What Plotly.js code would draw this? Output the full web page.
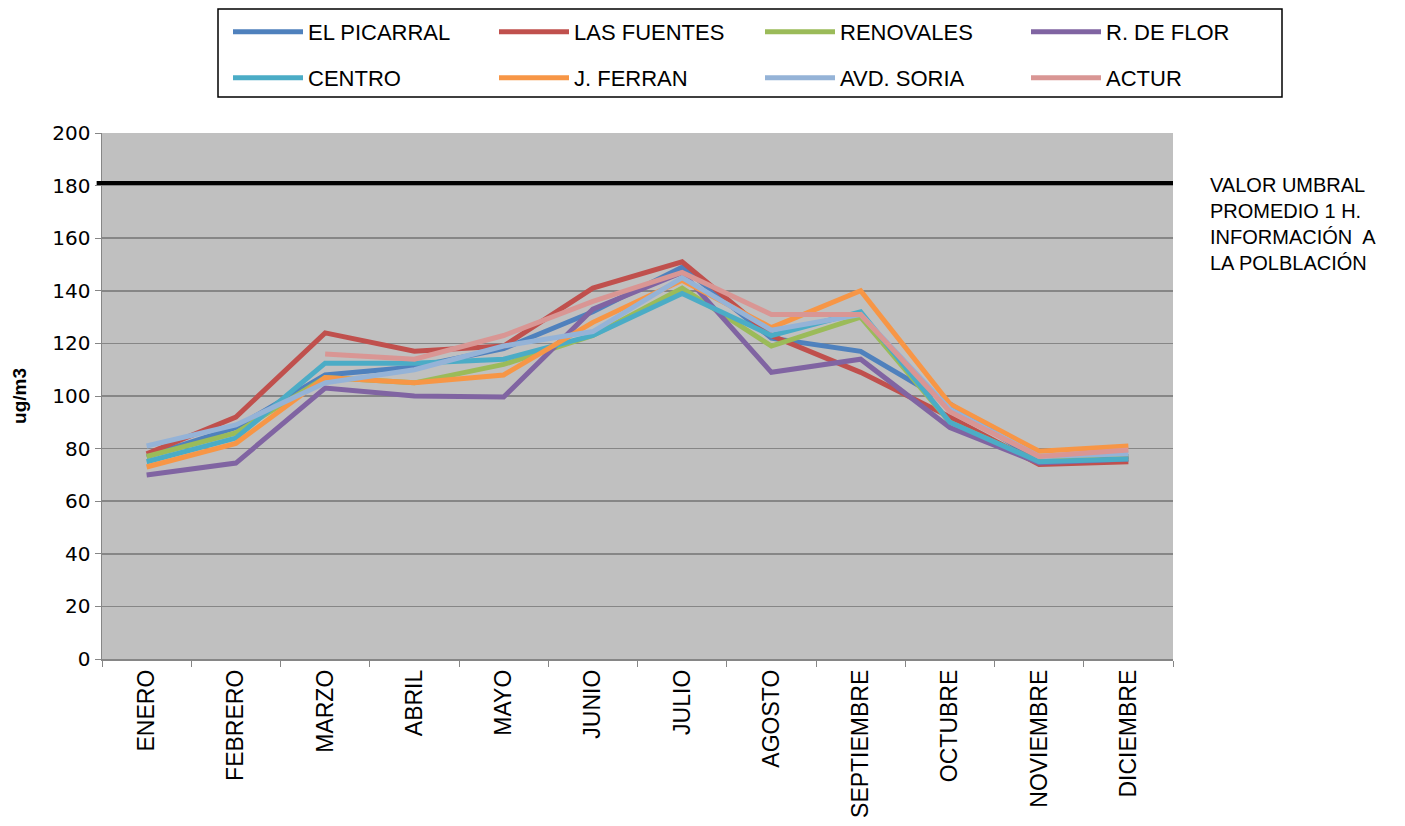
<!DOCTYPE html>
<html>
<head>
<meta charset="utf-8">
<script src="https://cdn.plot.ly/plotly-3.0.1.min.js"></script>
<style>html,body{margin:0;padding:0;background:#fff;}#chart{width:1405px;height:826px;}</style>
</head>
<body>
<div id="chart"></div>
<script>
const months = ["ENERO","FEBRERO","MARZO","ABRIL","MAYO","JUNIO","JULIO","AGOSTO","SEPTIEMBRE","OCTUBRE","NOVIEMBRE","DICIEMBRE"];
const elPicarral = [77, 88, 108, 111, 118, 132, 149, 122, 117, 97, 75, 77];
const lasFuentes = [78, 92, 124, 117, 119, 141, 151, 123, 109, 92, 74, 75];
const renovales  = [77, 86, 107, 105, 112, 123, 141, 119, 130, 90, 75, 77];
const rDeFlor    = [70, 74.5, 103, 100, 99.6, 133, 147, 109, 114, 88, 74.5, 76];
const centro     = [75, 84, 112.5, 112.5, 114, 123, 139, 123, 132, 90, 75, 76];
const jFerran    = [73, 82, 107, 105, 108, 128, 144, 126, 140, 97, 79, 81];
const avdSoria   = [81, 89, 105, 110, 119, 124.5, 145, 125, 131, 95, 77, 78];
const actur      = [null, null, 116, 114, 123, 136, 147, 131, 131, 94, 77, 79.5];
const umbral = 181;
const umbralLabel = "VALOR UMBRAL<br>PROMEDIO 1 H.<br>INFORMACIÓN  A<br>LA POLBLACIÓN";

const series = [
  ["EL PICARRAL", elPicarral, "#4F81BD", "legend"],
  ["LAS FUENTES", lasFuentes, "#C0504D", "legend"],
  ["RENOVALES", renovales, "#9BBB59", "legend"],
  ["R. DE FLOR", rDeFlor, "#8064A2", "legend"],
  ["CENTRO", centro, "#4BACC6", "legend2"],
  ["J. FERRAN", jFerran, "#F79646", "legend2"],
  ["AVD. SORIA", avdSoria, "#95B3D7", "legend2"],
  ["ACTUR", actur, "#D99694", "legend2"]
];

const traces = series.map(s => ({
  type: "scatter", mode: "lines", name: s[0], x: months, y: s[1],
  line: {color: s[2], width: 5}, connectgaps: false, legend: s[3]
}));

const ff = "Liberation Sans, Arial, sans-serif";
const legendBase = {
  orientation: "h", xref: "container", yref: "container",
  x: 228 / 1405, xanchor: "left", yanchor: "top",
  entrywidth: 181, entrywidthmode: "pixels", itemwidth: 70,
  borderwidth: 0, bgcolor: "rgba(0,0,0,0)",
  font: {family: ff, size: 22, color: "#000"},
  traceorder: "normal"
};

const layout = {
  width: 1405, height: 826,
  paper_bgcolor: "#fff", plot_bgcolor: "#c0c0c0",
  margin: {l: 102, r: 232, t: 133, b: 167, autoexpand: false},
  font: {family: ff, size: 19, color: "#000"},
  showlegend: true,
  legend: Object.assign({}, legendBase, {y: 1 - 11 / 826}),
  legend2: Object.assign({}, legendBase, {y: 1 - 57 / 826}),
  xaxis: {
    type: "category", range: [-0.5, 11.5],
    tickangle: -90, tickfont: {family: ff, size: 23, color: "#000"},
    showgrid: false, ticks: "outside", tickson: "boundaries", ticklen: 6, tickcolor: "#868686",
    showline: true, linecolor: "#868686", linewidth: 1.5, zeroline: false
  },
  yaxis: {
    range: [0, 200], dtick: 20, tick0: 0,
    tickfont: {family: "DejaVu Sans, sans-serif", size: 20, color: "#000"},
    showgrid: true, gridcolor: "#868686", gridwidth: 1.5,
    ticks: "outside", ticklen: 6, tickcolor: "#868686",
    showline: true, linecolor: "#868686", linewidth: 1.5, zeroline: false,
    title: {text: "<b>ug/m3</b>", font: {family: ff, size: 19, color: "#000"}, standoff: 20}
  },
  shapes: [
    {type: "line", xref: "paper", yref: "y", x0: -0.005, x1: 1, y0: umbral, y1: umbral,
     line: {color: "#000", width: 4}},
    {type: "rect", xref: "paper", yref: "paper",
     x0: (218 - 102) / 1071, x1: (1282 - 102) / 1071,
     y0: (659 - 97) / 526, y1: (659 - 9) / 526,
     line: {color: "#000", width: 1.5}, fillcolor: "rgba(0,0,0,0)"}
  ],
  annotations: [{
    xref: "paper", yref: "paper", x: 1.0325, y: 0.925, xanchor: "left", yanchor: "top",
    align: "left", showarrow: false,
    text: umbralLabel,
    font: {family: ff, size: 20, color: "#000"}
  }]
};

Plotly.newPlot("chart", traces, layout, {displayModeBar: false, staticPlot: true});
</script>
</body>
</html>
